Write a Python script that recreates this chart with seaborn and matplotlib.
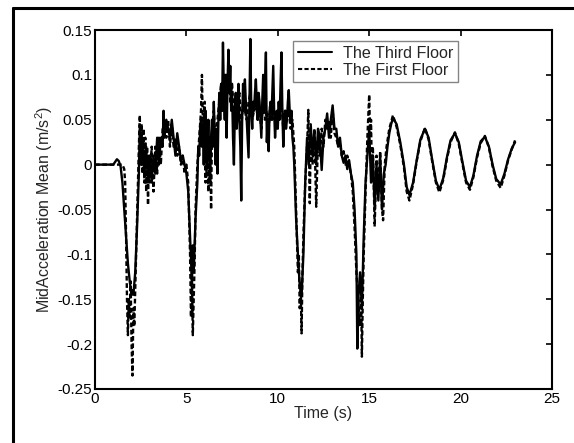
import numpy as np
import pandas as pd
import matplotlib
matplotlib.use("Agg")
import matplotlib.pyplot as plt
import seaborn as sns
from matplotlib.lines import Line2D

# ---------------- data ----------------
# The Third Floor (solid)
t_third_a = [0.0, 0.5, 1.0, 1.1, 1.2, 1.3, 1.4, 1.5, 1.6, 1.7, 1.8, 1.9, 2.0, 2.05, 2.1, 2.2, 2.3, 2.4, 2.45,
             2.5, 2.55, 2.6, 2.7, 2.8, 2.9, 3.0, 3.1, 3.2, 3.3, 3.4, 3.5, 3.6, 3.7, 3.75, 3.8, 3.9, 4.0, 4.1,
             4.2, 4.3, 4.4, 4.5, 4.6, 4.7, 4.8, 4.9, 5.0, 5.1, 5.2, 5.3, 5.35, 5.4, 5.5]
v_third_a = [0.0, 0.0, 0.0, 0.003, 0.006, 0.004, -0.002, -0.02, -0.05, -0.08, -0.11, -0.13, -0.145, -0.14,
             -0.145, -0.12, -0.07, -0.01, 0.04,
             0.02, 0.0, 0.03, -0.01, 0.02, -0.02, 0.01, -0.02, 0.01, -0.01, 0.03, 0.0, 0.03, 0.02, 0.06,
             0.03, 0.05, 0.04, 0.03,
             0.05, 0.03, 0.01, 0.035, 0.02, 0.005, 0.01, 0.0, -0.01, -0.03, -0.08, -0.13, -0.09, -0.12, -0.06]
t_third_b = [5.6, 5.65, 5.7, 5.75, 5.8, 5.85, 5.9, 5.95, 6.0, 6.05, 6.1, 6.15, 6.2, 6.25, 6.3, 6.35, 6.4,
             6.45, 6.5, 6.55, 6.6, 6.65, 6.7, 6.75, 6.8, 6.85, 6.9, 6.95, 7.0, 7.05, 7.1, 7.15, 7.2, 7.25,
             7.3, 7.35, 7.4, 7.45, 7.5, 7.55, 7.6, 7.65, 7.7, 7.75, 7.8, 7.85, 7.9, 7.95, 8.0, 8.05, 8.1,
             8.15, 8.2, 8.25, 8.3, 8.35, 8.4, 8.45, 8.5, 8.55, 8.6, 8.65, 8.7, 8.75, 8.8, 8.85, 8.9, 8.95,
             9.0, 9.05, 9.1, 9.15, 9.2, 9.25, 9.3, 9.35, 9.4, 9.45, 9.5, 9.55, 9.6, 9.65, 9.7, 9.75, 9.8,
             9.85, 9.9, 9.95, 10.0, 10.05, 10.1, 10.15, 10.2, 10.25, 10.3, 10.35, 10.4, 10.45, 10.5,
             10.55, 10.6, 10.65, 10.7, 10.75, 10.8, 10.85, 10.9]
v_third_b = [-0.02, 0.02, 0.01, 0.04, 0.05, 0.02, 0.04, 0.0, 0.04, 0.06, -0.01, 0.02, 0.05, 0.01, -0.02,
             0.03, 0.05, 0.02, 0.07, 0.03, 0.0, 0.04, -0.01, 0.05, 0.08, 0.05, 0.09, 0.06, 0.136, 0.08,
             0.05, 0.10, 0.03, 0.09, 0.128, 0.08, 0.11, 0.06, 0.08, 0.03, 0.0, 0.06, 0.08, 0.04, 0.06,
             0.09, 0.05, 0.02, -0.04, 0.05, 0.09, 0.06, 0.095, 0.07, 0.05, 0.03, 0.008, 0.07, 0.14, 0.06,
             0.04, 0.07, 0.06, 0.08, 0.095, 0.07, 0.05, 0.08, 0.07, 0.05, 0.03, 0.07, 0.10, 0.06, 0.09,
             0.125, 0.025, 0.05, 0.015, 0.06, 0.07, 0.05, 0.08, 0.11, 0.06, 0.03, 0.05, 0.06, 0.04, 0.07,
             0.05, 0.09, 0.125, 0.06, 0.02, 0.05, 0.06, 0.04, 0.05, 0.07, 0.083, 0.06, 0.05, 0.06, 0.03,
             0.02, 0.0]
t_third_c = [11.0, 11.1, 11.2, 11.3, 11.4, 11.5, 11.6, 11.7, 11.8, 11.9, 12.0, 12.1, 12.2, 12.3, 12.4,
             12.5, 12.6, 12.7, 12.8, 12.9, 13.0, 13.1, 13.2, 13.3, 13.4, 13.5, 13.6, 13.7, 13.8, 13.9,
             14.0, 14.1, 14.2, 14.3, 14.35, 14.4, 14.5, 14.6, 14.7, 14.8, 14.9, 15.0, 15.1, 15.2, 15.3,
             15.4, 15.5, 15.6, 15.7, 15.8, 15.9, 16.0, 16.1, 16.2, 16.3]
v_third_c = [-0.06, -0.10, -0.135, -0.147, -0.10, -0.02, 0.03, 0.0, 0.045, 0.01, 0.038, 0.0, 0.04, 0.03,
             -0.006, 0.03, 0.04, 0.057, 0.03, 0.05, 0.066, 0.04, 0.04, 0.02, 0.03, 0.01, 0.002, 0.01,
             -0.005, 0.005, -0.01, -0.02, -0.05, -0.10, -0.205, -0.15, -0.12, -0.16, -0.08, -0.02, 0.01,
             0.04, -0.02, 0.01, -0.05, 0.0, -0.04, 0.01, -0.05, -0.01, 0.0, 0.02, 0.035, 0.045, 0.052]
t_third_d = [16.5, 16.7, 16.9, 17.05, 17.2, 17.4, 17.6, 17.8, 18.05, 18.25, 18.45, 18.65, 18.84, 19.05,
             19.25, 19.45, 19.69, 19.9, 20.1, 20.3, 20.51, 20.7, 20.9, 21.1, 21.33, 21.55, 21.75, 21.95,
             22.19, 22.4, 22.6, 22.8, 22.98]
v_third_d = [0.045, 0.025, 0.0, -0.025, -0.034, -0.02, 0.005, 0.028, 0.04, 0.03, 0.005, -0.018, -0.028,
             -0.015, 0.008, 0.027, 0.035, 0.025, 0.003, -0.018, -0.025, -0.012, 0.01, 0.026, 0.031, 0.02,
             0.0, -0.016, -0.022, -0.01, 0.006, 0.018, 0.025]

# The First Floor (dashed)
t_first_a = [0.0, 0.5, 1.0, 1.5, 1.6, 1.65, 1.7, 1.75, 1.8, 1.85, 1.9, 1.95, 2.0, 2.05, 2.1, 2.15, 2.2,
             2.3, 2.4, 2.45, 2.5, 2.55, 2.6, 2.65, 2.7, 2.75, 2.8, 2.85, 2.9, 2.95, 3.0, 3.1, 3.2, 3.3,
             3.4, 3.5, 3.6, 3.7, 3.8, 3.9, 4.0, 4.1, 4.2, 4.3, 4.4, 4.5, 4.6, 4.7, 4.8, 4.9, 5.0, 5.1,
             5.2, 5.25, 5.3, 5.35, 5.4, 5.45, 5.5]
v_first_a = [0.0, 0.0, 0.0, 0.0, -0.005, -0.02, -0.08, -0.15, -0.19, -0.15, -0.17, -0.13, -0.20, -0.235,
             -0.16, -0.18, -0.14,
             -0.06, 0.02, 0.055, 0.0, 0.045, -0.01, 0.04, -0.02, 0.03, -0.03, 0.02, -0.045, 0.01, -0.02,
             0.02, -0.03, 0.02,
             -0.01, 0.03, 0.0, 0.04, 0.05, 0.03, 0.05, 0.02, 0.045, 0.02, 0.03, 0.01, 0.02, 0.0, 0.01,
             -0.01, 0.0, -0.02,
             -0.10, -0.17, -0.12, -0.19, -0.15, -0.11, -0.05]
t_first_b = [5.6, 5.7, 5.8, 5.85, 5.9, 6.0, 6.05, 6.1, 6.2, 6.3, 6.35, 6.4, 6.5, 6.6, 6.7, 6.8, 6.9,
             7.0, 7.1, 7.2, 7.3, 7.4, 7.5, 7.6, 7.7, 7.8, 7.9, 8.0, 8.1, 8.2, 8.3, 8.4, 8.5, 8.6, 8.7,
             8.8, 8.9, 9.0, 9.1, 9.2, 9.3, 9.4, 9.5, 9.6, 9.7, 9.8, 9.9, 10.0, 10.1, 10.2, 10.3, 10.4,
             10.5, 10.6, 10.7, 10.8, 10.9]
v_first_b = [0.0, 0.03, 0.06, 0.10, 0.04, 0.07, -0.02, 0.05, -0.03, 0.03, -0.05, 0.04, 0.06, 0.02,
             0.05, 0.07, 0.09, 0.06, 0.10, 0.08, 0.11, 0.07, 0.09, 0.05, 0.07, 0.06, 0.08, 0.04, 0.07,
             0.06, 0.05, 0.07, 0.08, 0.05, 0.06, 0.07, 0.05, 0.06, 0.04, 0.07, 0.05, 0.06, 0.04, 0.07,
             0.05, 0.06, 0.04, 0.06, 0.05, 0.07, 0.04, 0.06, 0.05, 0.06, 0.04, 0.05, 0.02]
t_first_c = [11.0, 11.1, 11.15, 11.2, 11.25, 11.3, 11.35, 11.4, 11.5, 11.6, 11.67, 11.75, 11.8, 11.9,
             12.0, 12.1, 12.2, 12.3, 12.4, 12.5, 12.6, 12.7, 12.8, 12.9, 13.0, 13.1, 13.2, 13.3, 13.4,
             13.5, 13.6, 13.7, 13.8, 13.9, 14.0, 14.1, 14.2, 14.3, 14.4, 14.5, 14.55, 14.6, 14.65, 14.7,
             14.8, 14.9, 15.0, 15.05, 15.1, 15.15, 15.2, 15.3, 15.4, 15.5, 15.6, 15.7, 15.76, 15.85,
             15.95, 16.1, 16.3]
v_first_c = [-0.05, -0.12, -0.10, -0.16, -0.13, -0.188, -0.12, -0.08, -0.02, 0.02, 0.061, -0.043, 0.03,
             0.0, 0.04, -0.047, 0.03, 0.01, 0.04, 0.02, 0.05, 0.04, 0.05, 0.03, 0.06, 0.035, 0.03, 0.02,
             0.025, 0.01, 0.015, 0.0, 0.01, 0.0, -0.01, -0.03, -0.07, -0.12, -0.15, -0.18, -0.13,
             -0.214, -0.15, -0.10, -0.03, 0.03, 0.078, 0.03, 0.05, -0.02, 0.02, -0.069, 0.01, -0.03,
             0.015, -0.05, -0.062, 0.0, 0.02, 0.04, 0.055]
t_first_d = [16.5, 16.7, 16.9, 17.05, 17.2, 17.4, 17.6, 17.8, 18.05, 18.25, 18.45, 18.65, 18.84, 19.05,
             19.25, 19.45, 19.69, 19.9, 20.1, 20.3, 20.51, 20.7, 20.9, 21.1, 21.33, 21.55, 21.75, 21.95,
             22.19, 22.4, 22.6, 22.8, 22.98]
v_first_d = [0.042, 0.022, -0.003, -0.03, -0.04, -0.022, 0.004, 0.026, 0.041, 0.028, 0.003, -0.02,
             -0.031, -0.017, 0.006, 0.025, 0.036, 0.023, 0.001, -0.02, -0.028, -0.014, 0.008, 0.024,
             0.032, 0.019, -0.002, -0.018, -0.026, -0.012, 0.005, 0.017, 0.027]

x_ticks = [0, 5, 10, 15, 20, 25]
y_ticks = [-0.25, -0.2, -0.15, -0.1, -0.05, 0, 0.05, 0.1, 0.15]
y_tick_labels = ["-0.25", "-0.2", "-0.15", "-0.1", "-0.05", "0", "0.05", "0.1", "0.15"]
series_names = ["The Third Floor", "The First Floor"]

t_third = t_third_a + t_third_b + t_third_c + t_third_d
v_third = v_third_a + v_third_b + v_third_c + v_third_d
t_first = t_first_a + t_first_b + t_first_c + t_first_d
v_first = v_first_a + v_first_b + v_first_c + v_first_d

# ---------------- plot ----------------
sns.set_theme(style="white")
plt.rcParams["font.family"] = ["Liberation Sans", "DejaVu Sans"]
plt.rcParams["mathtext.fontset"] = "custom"
plt.rcParams["mathtext.rm"] = "Liberation Sans"
plt.rcParams["mathtext.it"] = "Liberation Sans:italic"

fig = plt.figure(figsize=(5.74, 4.43), dpi=100)
fig.patch.set_facecolor("white")
ax = fig.add_axes([95 / 574, 1 - 389 / 443, (552 - 95) / 574, (389 - 30) / 443])

df3 = pd.DataFrame({"t": t_third, "v": v_third})
df1 = pd.DataFrame({"t": t_first, "v": v_first})
sns.lineplot(data=df3, x="t", y="v", ax=ax, color="black", linewidth=1.7,
             estimator=None, sort=False, label=series_names[0])
sns.lineplot(data=df1, x="t", y="v", ax=ax, color="black", linewidth=1.7,
             linestyle=(0, (2.0, 1.1)), estimator=None, sort=False, label=series_names[1])

ax.set_xlim(0, 25)
ax.set_ylim(-0.25, 0.15)
ax.set_xticks(x_ticks)
ax.set_xticklabels([str(x) for x in x_ticks])
ax.set_yticks(y_ticks)
ax.set_yticklabels(y_tick_labels)
ax.tick_params(direction="in", length=4, width=1.2, top=True, right=True,
               labelsize=11, colors="black", pad=2)
for s in ax.spines.values():
    s.set_linewidth(1.5)
    s.set_color("black")
    s.set_visible(True)

ax.set_xlabel("Time (s)", fontsize=11.5, labelpad=0)
ax.set_ylabel("MidAcceleration Mean (m/s$^2$)", fontsize=11.5, labelpad=2)

leg = ax.legend(loc="upper left", bbox_to_anchor=(0.434, 0.970), fontsize=11.6,
                frameon=True, fancybox=False, borderpad=0.3, labelspacing=0.12,
                handlelength=2.1, handletextpad=0.7, borderaxespad=0)
leg.get_frame().set_edgecolor("#666666")
leg.get_frame().set_linewidth(1.0)
for h in leg.get_lines():
    h.set_linewidth(1.5)

# outer frame of the figure (only left and top edges are visible)
fx, fy = 13 / 574, 1 - 8 / 443
fig.add_artist(Line2D([fx, fx], [0, fy], transform=fig.transFigure, color="black", linewidth=2.2))
fig.add_artist(Line2D([fx, 1], [fy, fy], transform=fig.transFigure, color="black", linewidth=2.2))

fig.savefig("out.png", dpi=100, facecolor="white")
